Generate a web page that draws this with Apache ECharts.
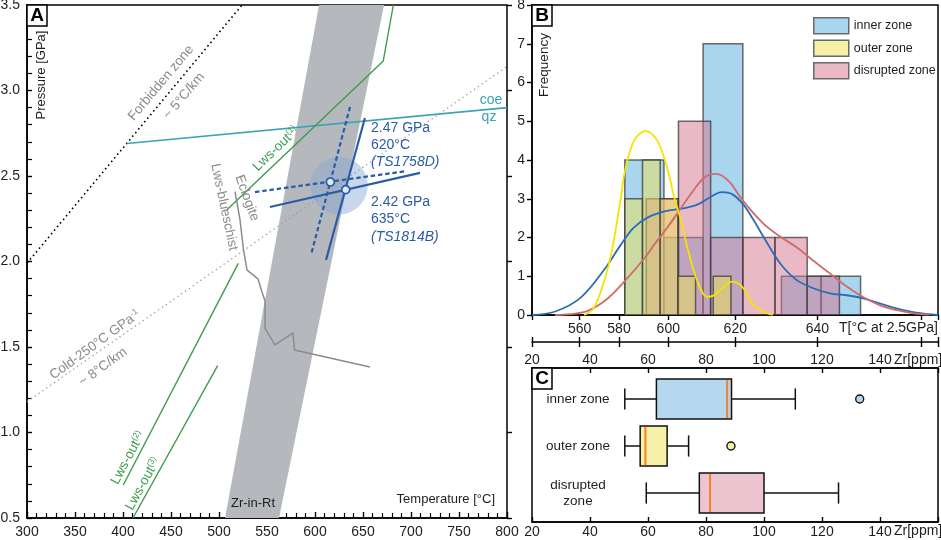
<!DOCTYPE html>
<html><head><meta charset="utf-8">
<script src="https://cdn.jsdelivr.net/npm/echarts@6/dist/echarts.min.js"></script>
<style>html,body{margin:0;padding:0;background:#fff}#c{width:941px;height:540px}</style>
</head><body><div id="c"></div>
<script>
// ---------------- Panel A : P-T diagram ----------------
const tempTicks = [300, 800, 50];          // min, max, step (°C)
const pressureTicks = [0.5, 3.5, 0.5];      // min, max, step (GPa)
const forbiddenZone = [[300, 1.99], [524, 3.5]];
const coldGradient = [[300, 1.18], [800, 3.14]];
const coeQz = [[404, 2.69], [800, 2.90]];
const lwsOut1 = [[681.6, 3.5], [671.1, 3.173], [508, 2.301]];
const lwsOut2 = [[400.3, 0.693], [520.1, 1.989]];
const lwsOut3 = [[410.4, 0.5], [498.6, 1.391]];
const blueschistEclogite = [[516.7, 2.408], [521.9, 2.243], [525.5, 2.068], [529.2, 1.950], [540.6, 1.898],
  [544.8, 1.822], [547.9, 1.769], [547.9, 1.611], [558.3, 1.512], [577.1, 1.582], [578.6, 1.482], [657.3, 1.383]];
const zrInRtBand = [[604.2, 3.5], [671.9, 3.5], [562.5, 0.5], [506.3, 0.5]];
const ts1758dSteep = [[636.5, 2.904], [595.8, 2.038]];
const ts1758dShallow = [[537.5, 2.406], [695.8, 2.529]];
const ts1814bSteep = [[652, 2.839], [611.5, 2.009]];
const ts1814bShallow = [[553, 2.319], [709.4, 2.518]];
const peakConditions = [[616, 2.465], [632, 2.42]];
const uncertaintyCentre = [625, 2.444];
const uncertaintyRadiusC = 30;

// ---------------- Panel B : histograms ----------------
const zrRange = [20, 160];
const innerEdges = [52, 65.5, 79, 92.7, 106, 119.7, 133.3];
const innerCounts = [4, 2, 7, 0, 1, 1];
const outerEdges = [52, 58.1, 64.2, 70.3, 76.4, 82.5, 88.6];
const outerCounts = [3, 4, 3, 1, 0, 1];
const disruptedEdges = [59.4, 70.5, 81.6, 92.7, 103.8, 114.9, 126];
const disruptedCounts = [3, 5, 2, 2, 2, 1];
const innerKde = [[20,0],[28,0.09],[36.8,0.45],[44.8,1.16],[50.6,1.81],[55,2.25],[60,2.52],[66,2.68],
  [72,2.75],[77,2.85],[81,3.02],[85.5,3.17],[89,3.12],[92.9,2.85],[96.4,2.45],[99.8,2.02],
  [105.6,1.33],[111.3,0.9],[117,0.69],[122.7,0.56],[128.5,0.51],[134.2,0.43],[139.9,0.30],[145.7,0.17],[152.5,0.06],[160,0]];
const disruptedKde = [[28,0],[33,0.02],[39,0.1],[46,0.42],[52.9,0.95],[58.6,1.45],[62.5,1.85],[66.6,2.25],[70.1,2.62],
  [75.5,3.2],[79.5,3.55],[83.5,3.64],[88,3.44],[92.5,2.97],[99.6,2.37],[105,2.05],[111,1.76],[116.7,1.42],[122.6,1.08],
  [128.3,0.75],[134,0.47],[140,0.25],[145.5,0.13],[151,0.05],[157,0.01]];
const outerKde = [[38,0],[41,0.15],[43.7,0.6],[47.1,1.5],[50.6,3.0],[52,3.7],[55.2,4.5],[59.2,4.75],[63.2,4.5],
  [66.6,3.8],[69,3.05],[71.5,2.4],[73.5,1.76],[76.9,0.9],[80.4,0.47],[82.5,0.5],[85,0.65],[89,0.86],[92.4,0.73],
  [96.4,0.26],[100,0.08],[103,0]];
const freqTicks = [0, 8, 1];
const tTickLabels = [560, 580, 600, 620, 640, 660];
const tTickZr = [36.4, 50.0, 67.0, 90.1, 118.4, 154.3];
const zrTickLabels = [20, 40, 60, 80, 100, 120, 140];

// ---------------- Panel C : box plots ----------------
const zoneNames = ['inner zone', 'outer zone', 'disrupted zone'];
const zrBoxStats = [[52, 62.9, 87.3, 88.8, 110.8], [52, 57.3, 59.1, 66.6, 74.0], [59.4, 77.7, 81.4, 100.0, 125.7]];
const zrOutliers = [[133, 0], [88.6, 1]];

// ---------------- styles ----------------
const FONT = '"Liberation Sans", Arial, Helvetica, sans-serif';
const histFill = ['rgba(83,171,221,0.5)', 'rgba(237,225,83,0.5)', 'rgba(211,115,141,0.5)'];
const legendFill = ['#a9d5ee', '#f6f0a9', '#e9b9c6'];
const boxFill = ['#b5d8ef', '#f7f0a8', '#ecc5d0'];
const kdeColor = ['#2b6db5', '#f5e400', '#cf6b6b'];
const BLUE = '#2b5ca6', GREEN = '#3c9c4f', TEAL = '#3ba3b3', GRAY = '#8c8c8c';

const chart = echarts.init(document.getElementById('c'));

function lineSeries(data, color, width, type, z) {
  return { type: 'line', xAxisIndex: 0, yAxisIndex: 0, data: data, symbol: 'none', silent: true,
    animation: false, z: z || 3, lineStyle: { color: color, width: width, type: type || 'solid', cap: 'butt' } };
}
function histSeries(name, edges, counts, fill) {
  return { type: 'custom', name: name, xAxisIndex: 1, yAxisIndex: 2, clip: true, animation: false, silent: true,
    data: counts.map((c, i) => [edges[i], edges[i + 1], c]),
    renderItem: function (params, api) {
      const c = api.value(2);
      if (!c) return null;
      const p0 = api.coord([api.value(0), c]);
      const p1 = api.coord([api.value(1), 0]);
      return { type: 'rect', shape: { x: p0[0], y: p0[1], width: p1[0] - p0[0], height: p1[1] - p0[1] },
        style: { fill: fill, stroke: 'rgba(60,60,60,0.75)', lineWidth: 1.5 } };
    } };
}
function kdeSeries(data, color) {
  return { type: 'line', xAxisIndex: 1, yAxisIndex: 2, data: data, symbol: 'none', smooth: 0.35,
    silent: true, animation: false, z: 4, lineStyle: { color: color, width: 1.8 } };
}
function t(text, x, y, o) {
  o = o || {};
  const size = o.size || 13;
  const font = (o.italic ? 'italic ' : '') + (o.bold ? 'bold ' : '') + size + 'px ' + FONT;
  return { type: 'text', x: x, y: y, rotation: (o.rot || 0) * Math.PI / 180, silent: true, z: 100,
    style: { text: text, fill: o.color || '#1e1e1e', font: font,
      textAlign: o.align || 'center', align: o.align || 'center',
      textVerticalAlign: 'middle', verticalAlign: 'middle',
      rich: { base: { fontSize: size, fontFamily: FONT, fill: o.color || '#1e1e1e' },
              sup: { fontSize: 8.5, fontFamily: FONT, fill: o.color || '#1e1e1e', verticalAlign: 'top', lineHeight: size + 2 } } } };
}
function letterBox(letter, x, y) {
  return [
    { type: 'rect', shape: { x: x, y: y, width: 20, height: 21 }, style: { fill: '#fff', stroke: '#000', lineWidth: 1.5 }, z: 99, silent: true },
    t(letter, x + 10, y + 11, { bold: true, size: 19, color: '#000' })
  ];
}

const axisLine = { show: true, onZero: false, lineStyle: { color: '#000', width: 1.5 } };
const noLine = { show: false, onZero: false };
const labelStyle = { color: '#1e1e1e', fontSize: 14, fontFamily: FONT };
const gridStyle = { show: true, borderColor: '#000', borderWidth: 1.5, backgroundColor: 'transparent', containLabel: false, outerBoundsMode: 'none' };
const tTickValues = [zrRange[0]].concat(tTickZr, [zrRange[1]]);

const option = {
  animation: false,
  backgroundColor: '#fff',
  textStyle: { fontFamily: FONT },
  grid: [
    Object.assign({ left: 27, top: 5, width: 480, height: 513 }, gridStyle),
    Object.assign({ left: 532, top: 5, width: 406, height: 310 }, gridStyle),
    Object.assign({ left: 532, top: 368, width: 406, height: 154 }, gridStyle)
  ],
  xAxis: [
    { gridIndex: 0, type: 'value', min: tempTicks[0], max: tempTicks[1], interval: tempTicks[2], axisLine: axisLine,
      axisTick: { show: true, inside: true, length: 6, lineStyle: { color: '#000', width: 1.4 } },
      minorTick: { show: true, splitNumber: 5, length: 5, lineStyle: { color: '#000', width: 1.2 } },
      splitLine: { show: false }, minorSplitLine: { show: false },
      axisLabel: Object.assign({ margin: 7 }, labelStyle) },
    { gridIndex: 1, type: 'value', min: zrRange[0], max: zrRange[1], axisLine: axisLine, splitLine: { show: false },
      axisTick: { show: true, inside: false, length: 5, customValues: tTickValues, lineStyle: { color: '#000', width: 1.4 } },
      axisLabel: Object.assign({ margin: 7, customValues: tTickZr.slice(0, 5),
        formatter: function (v) { const i = tTickZr.indexOf(v); return i >= 0 ? String(tTickLabels[i]) : ''; } }, labelStyle) },
    { gridIndex: 1, type: 'value', position: 'bottom', offset: 27, min: zrRange[0], max: zrRange[1], axisLine: axisLine, splitLine: { show: false },
      axisTick: { show: true, inside: false, length: 5, customValues: tTickValues, lineStyle: { color: '#000', width: 1.4 } },
      axisLabel: Object.assign({ margin: 11, customValues: zrTickLabels }, labelStyle) },
    { gridIndex: 1, type: 'value', position: 'bottom', offset: 27, min: zrRange[0], max: zrRange[1], axisLine: noLine, splitLine: { show: false },
      axisTick: { show: true, inside: true, length: 5, customValues: tTickValues, lineStyle: { color: '#000', width: 1.4 } },
      axisLabel: { show: false } },
    { gridIndex: 2, type: 'value', position: 'top', min: zrRange[0], max: zrRange[1], interval: 20, axisLine: axisLine, splitLine: { show: false },
      axisTick: { show: true, inside: true, length: 5, lineStyle: { color: '#000', width: 1.4 } }, axisLabel: { show: false } },
    { gridIndex: 2, type: 'value', position: 'bottom', min: zrRange[0], max: zrRange[1], interval: 20, axisLine: axisLine, splitLine: { show: false },
      axisTick: { show: true, inside: true, length: 5, lineStyle: { color: '#000', width: 1.4 } },
      axisLabel: Object.assign({ margin: 3, customValues: zrTickLabels }, labelStyle) }
  ],
  yAxis: [
    { gridIndex: 0, type: 'value', min: pressureTicks[0], max: pressureTicks[1], interval: pressureTicks[2], axisLine: axisLine,
      axisTick: { show: true, inside: true, length: 5, lineStyle: { color: '#000', width: 1.4 } },
      minorTick: { show: true, splitNumber: 5, length: 5, lineStyle: { color: '#000', width: 1.2 } },
      splitLine: { show: false }, minorSplitLine: { show: false },
      axisLabel: Object.assign({ margin: 7, formatter: function (v) { return v.toFixed(1); } }, labelStyle) },
    { gridIndex: 0, type: 'value', min: pressureTicks[0], max: pressureTicks[1], interval: pressureTicks[2], axisLine: noLine,
      axisTick: { show: true, inside: false, length: 5, lineStyle: { color: '#000', width: 1.4 } },
      splitLine: { show: false }, axisLabel: { show: false } },
    { gridIndex: 1, type: 'value', min: freqTicks[0], max: freqTicks[1], interval: freqTicks[2], axisLine: axisLine,
      axisTick: { show: true, inside: false, length: 5, lineStyle: { color: '#000', width: 1.4 } },
      splitLine: { show: false }, axisLabel: Object.assign({ margin: 7 }, labelStyle) },
    { gridIndex: 2, type: 'value', min: -0.66, max: 2.617, inverse: true, show: false, axisLine: noLine, splitLine: { show: false } }
  ],
  legend: {
    left: 808, top: 12, orient: 'vertical', itemWidth: 35, itemHeight: 16, itemGap: 5, selectedMode: false,
    textStyle: { fontSize: 12.5, color: '#1e1e1e', fontFamily: FONT },
    data: zoneNames.map(function (n, i) {
      return { name: n, icon: 'rect', itemStyle: { color: legendFill[i], borderColor: '#6a6a6a', borderWidth: 1.5 } };
    })
  },
  series: [
    // ----- Panel A -----
    lineSeries(coldGradient, '#9a9a9a', 1.3, [1.3, 3.4], 2),
    { type: 'custom', xAxisIndex: 0, yAxisIndex: 0, clip: true, silent: true, z: 2, data: [zrInRtBand[0]],
      renderItem: function (params, api) {
        return { type: 'polygon', shape: { points: zrInRtBand.map(function (p) { return api.coord(p); }) },
          style: { fill: '#b5b9bd' } };
      } },
    { type: 'custom', xAxisIndex: 0, yAxisIndex: 0, clip: true, silent: true, z: 2, data: [uncertaintyCentre],
      renderItem: function (params, api) {
        const c = api.coord([api.value(0), api.value(1)]);
        const r = api.size([uncertaintyRadiusC, 0])[0];
        return { type: 'circle', shape: { cx: c[0], cy: c[1], r: r }, style: { fill: 'rgba(135,167,211,0.46)' } };
      } },
    lineSeries(forbiddenZone, '#000', 1.6, [1.6, 3.1]),
    lineSeries(coeQz, TEAL, 1.7),
    lineSeries(lwsOut1, GREEN, 1.4),
    lineSeries(lwsOut2, GREEN, 1.4),
    lineSeries(lwsOut3, GREEN, 1.4),
    lineSeries(blueschistEclogite, GRAY, 1.5),
    lineSeries(ts1758dSteep, BLUE, 2.2, [4.5, 2.8], 5),
    lineSeries(ts1758dShallow, BLUE, 2.2, [4.5, 2.8], 5),
    lineSeries(ts1814bSteep, BLUE, 2.2, 'solid', 5),
    lineSeries(ts1814bShallow, BLUE, 2.2, 'solid', 5),
    { type: 'scatter', xAxisIndex: 0, yAxisIndex: 0, data: peakConditions, symbol: 'circle', symbolSize: 8, z: 6, silent: true,
      itemStyle: { color: '#dce7f3', borderColor: BLUE, borderWidth: 1.7, opacity: 1 } },
    // ----- Panel B -----
    histSeries(zoneNames[0], innerEdges, innerCounts, histFill[0]),
    histSeries(zoneNames[2], disruptedEdges, disruptedCounts, histFill[2]),
    histSeries(zoneNames[1], outerEdges, outerCounts, histFill[1]),
    kdeSeries(innerKde, kdeColor[0]),
    kdeSeries(disruptedKde, kdeColor[2]),
    kdeSeries(outerKde, kdeColor[1]),
    // ----- Panel C -----
    { type: 'custom', xAxisIndex: 5, yAxisIndex: 3, clip: false, silent: true, z: 3,
      data: zrBoxStats.map(function (s, i) { return [i].concat(s); }),
      renderItem: function (params, api) {
        const cat = api.value(0);
        const v = [1, 2, 3, 4, 5].map(function (k) { return api.value(k); });
        const yc = api.coord([v[0], cat])[1];
        const hb = api.size([0, 0.85])[1] / 2;
        const hc = api.size([0, 0.45])[1] / 2;
        const x = v.map(function (d) { return api.coord([d, cat])[0]; });
        const ls = { stroke: '#111', lineWidth: 1.5 };
        return { type: 'group', children: [
          { type: 'line', shape: { x1: x[0], y1: yc, x2: x[1], y2: yc }, style: ls },
          { type: 'line', shape: { x1: x[3], y1: yc, x2: x[4], y2: yc }, style: ls },
          { type: 'line', shape: { x1: x[0], y1: yc - hc, x2: x[0], y2: yc + hc }, style: ls },
          { type: 'line', shape: { x1: x[4], y1: yc - hc, x2: x[4], y2: yc + hc }, style: ls },
          { type: 'rect', shape: { x: x[1], y: yc - hb, width: x[3] - x[1], height: 2 * hb },
            style: { fill: boxFill[params.dataIndex], stroke: '#111', lineWidth: 1.5 } },
          { type: 'line', shape: { x1: x[2], y1: yc - hb + 1, x2: x[2], y2: yc + hb - 1 }, style: { stroke: '#f5821f', lineWidth: 2 } }
        ] };
      } },
    { type: 'scatter', xAxisIndex: 5, yAxisIndex: 3, symbol: 'circle', symbolSize: 8, z: 4, silent: true,
      data: zrOutliers.map(function (p) { return { value: p, itemStyle: { color: boxFill[p[1]] } }; }),
      itemStyle: { borderColor: '#111', borderWidth: 1.4, opacity: 1 } }
  ],
  graphic: [].concat(
    letterBox('A', 27, 5), letterBox('B', 532, 5), letterBox('C', 532, 368),
    [
      t('Pressure [GPa]', 41, 75, { rot: 90 }),
      t('Temperature [°C]', 495, 499, { align: 'right' }),
      t('Zr-in-Rt', 253, 503),
      t('Forbidden zone', 161, 83, { rot: 50, color: '#8a8a8a', size: 13.5 }),
      t('~ 5°C/km', 184, 96, { rot: 50, color: '#8a8a8a', size: 13.5 }),
      t('{base|Cold-250°C GPa}{sup|-1}', 95, 345, { rot: 36, color: '#8a8a8a', size: 13.5 }),
      t('~ 8°C/km', 103, 367, { rot: 36, color: '#8a8a8a', size: 13.5 }),
      t('Lws-blueschist', 224, 207, { rot: -78, color: '#8a8a8a', size: 13.5 }),
      t('Eclogite', 247, 198, { rot: -70, color: '#8a8a8a', size: 13.5 }),
      t('{base|Lws-out}{sup|(1)}', 276, 149, { rot: 44, color: GREEN, size: 13.5 }),
      t('{base|Lws-out}{sup|(2)}', 128, 458, { rot: 62, color: GREEN, size: 13.5 }),
      t('{base|Lws-out}{sup|(3)}', 143, 484, { rot: 61, color: GREEN, size: 13.5 }),
      t('coe', 491, 100, { color: TEAL, size: 14 }),
      t('qz', 489, 117, { color: TEAL, size: 14 }),
      t('2.47 GPa', 371, 128, { align: 'left', color: BLUE, size: 14 }),
      t('620°C', 371, 145, { align: 'left', color: BLUE, size: 14 }),
      t('(TS1758D)', 371, 162, { align: 'left', color: BLUE, size: 14, italic: true }),
      t('2.42 GPa', 371, 202, { align: 'left', color: BLUE, size: 14 }),
      t('635°C', 371, 219, { align: 'left', color: BLUE, size: 14 }),
      t('(TS1814B)', 371, 237, { align: 'left', color: BLUE, size: 14, italic: true }),
      t('Frequency', 544, 65, { rot: 90, size: 13.5 }),
      t('T[°C at 2.5GPa]', 938, 328, { align: 'right', size: 14 }),
      t('Zr[ppm]', 894, 360, { align: 'left', size: 14 }),
      t('Zr[ppm]', 894, 531, { align: 'left', size: 14 }),
      t('inner zone', 578, 399, { size: 13.5 }),
      t('outer zone', 578, 446, { size: 13.5 }),
      t('disrupted', 578, 485, { size: 13.5 }),
      t('zone', 578, 501, { size: 13.5 })
    ])
};
chart.setOption(option);
</script></body></html>
